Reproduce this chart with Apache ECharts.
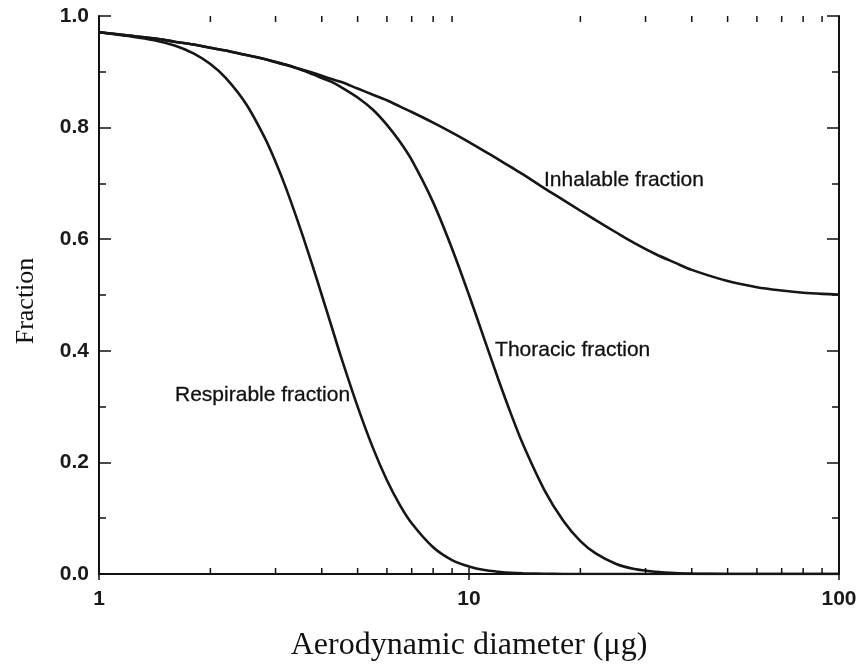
<!DOCTYPE html>
<html>
<head>
<meta charset="utf-8">
<script src="https://cdn.jsdelivr.net/npm/echarts@6/dist/echarts.min.js"></script>
<style>html,body{margin:0;padding:0;background:#fff;}#chart{width:860px;height:667px;}</style>
</head>
<body>
<div id="chart"></div>
<script>
// Aerodynamic diameter (x values)
const diameters = [1, 1.2, 1.4, 1.6, 1.8, 2, 2.2, 2.5, 2.8, 3, 3.2, 3.5, 3.8, 4, 4.25, 4.5, 5, 5.5, 6, 6.5, 7, 8, 9, 10, 11, 12, 13, 14, 16, 18, 20, 22, 25, 28, 32, 36, 40, 50, 60, 70, 80, 90, 100];
const inhalable = [0.971, 0.965, 0.960, 0.954, 0.949, 0.943, 0.938, 0.930, 0.923, 0.918, 0.913, 0.905, 0.898, 0.893, 0.887, 0.882, 0.870, 0.859, 0.849, 0.838, 0.828, 0.809, 0.791, 0.774, 0.758, 0.743, 0.729, 0.716, 0.691, 0.670, 0.651, 0.634, 0.612, 0.593, 0.573, 0.558, 0.545, 0.525, 0.514, 0.508, 0.504, 0.502, 0.501];
const thoracic = [0.971, 0.965, 0.960, 0.954, 0.949, 0.943, 0.938, 0.930, 0.923, 0.917, 0.912, 0.904, 0.895, 0.889, 0.882, 0.873, 0.854, 0.832, 0.805, 0.775, 0.742, 0.666, 0.583, 0.500, 0.421, 0.349, 0.286, 0.232, 0.150, 0.095, 0.059, 0.037, 0.018, 0.009, 0.004, 0.0015, 0.0006, 0, 0, 0, 0, 0, 0];
const respirable = [0.971, 0.964, 0.957, 0.947, 0.933, 0.914, 0.889, 0.842, 0.783, 0.739, 0.692, 0.619, 0.547, 0.500, 0.444, 0.391, 0.300, 0.226, 0.168, 0.124, 0.091, 0.048, 0.025, 0.0135, 0.007, 0.004, 0.002, 0.0012, 0.0004, 0.0001, 0, 0, 0, 0, 0, 0, 0, 0, 0, 0, 0, 0, 0];
// Curve names and label anchors [diameter, fraction]
const seriesNames = ['Inhalable fraction', 'Thoracic fraction', 'Respirable fraction'];
const labelAnchors = [[15.95, 0.706], [11.76, 0.401], [1.605, 0.321]];
// Axis ticks
const minorXTicks = [2, 3, 4, 5, 6, 7, 8, 9, 20, 30, 40, 50, 60, 70, 80, 90];
const xTitle = 'Aerodynamic diameter (μg)';
const yTitle = 'Fraction';

const chart = echarts.init(document.getElementById('chart'), null, {renderer: 'canvas'});
const ink = '#111';
const lineColor = '#161616';

function pairs(ys) { return diameters.map((d, i) => [d, ys[i]]); }
const allSeries = [inhalable, thoracic, respirable];

const lineSeries = allSeries.map((ys, i) => ({
  type: 'line',
  name: seriesNames[i],
  data: pairs(ys),
  smooth: 0.3,
  showSymbol: false,
  symbol: 'none',
  z: 3,
  lineStyle: {color: lineColor, width: 2.6},
  markPoint: {
    symbol: 'circle',
    symbolSize: 0,
    silent: true,
    data: [{
      coord: labelAnchors[i],
      label: {
        show: true,
        formatter: seriesNames[i],
        position: 'right',
        distance: 0,
        color: '#111',
        fontFamily: 'Liberation Sans, Arial, sans-serif',
        fontSize: 21,
        textBorderColor: '#111',
        textBorderWidth: 0.3
      }
    }]
  }
}));

const tickSeries = {
  type: 'custom',
  silent: true,
  clip: false,
  z: 4,
  data: minorXTicks.map(v => [v]),
  encode: {x: 0},
  renderItem: function (params, api) {
    const x = api.value(0);
    const b = api.coord([x, 0]);
    const t = api.coord([x, 1]);
    const st = {stroke: ink, lineWidth: 1.5};
    return {
      type: 'group',
      children: [
        {type: 'line', shape: {x1: b[0], y1: b[1], x2: b[0], y2: b[1] - 6}, style: st},
        {type: 'line', shape: {x1: t[0], y1: t[1], x2: t[0], y2: t[1] + 6}, style: st}
      ]
    };
  }
};

const axisLine = {show: true, lineStyle: {color: ink, width: 2}};
const tickLabelStyle = {fontFamily: 'Liberation Sans, Arial, sans-serif', fontWeight: 'bold', fontSize: 21, color: '#1a1a1a'};

chart.setOption({
  backgroundColor: '#fff',
  animation: false,
  grid: {left: 99, right: 21, top: 16, bottom: 90, containLabel: false},
  xAxis: [{
    type: 'log',
    logBase: 10,
    min: 1,
    max: 100,
    position: 'bottom',
    name: xTitle,
    nameLocation: 'middle',
    nameGap: 56,
    nameTextStyle: {fontFamily: 'Liberation Serif, Times New Roman, serif', fontSize: 32, color: '#111'},
    axisLine: axisLine,
    axisTick: {show: true, inside: true, length: 6, lineStyle: {color: ink, width: 1.5}},
    axisLabel: Object.assign({show: true, margin: 15}, tickLabelStyle),
    splitLine: {show: false},
    minorTick: {show: false}
  }, {
    type: 'log',
    logBase: 10,
    min: 1,
    max: 100,
    position: 'top',
    axisLine: axisLine,
    axisTick: {show: true, inside: true, length: 6, lineStyle: {color: ink, width: 1.5}},
    axisLabel: {show: false},
    splitLine: {show: false}
  }],
  yAxis: [{
    type: 'value',
    min: 0,
    max: 1,
    interval: 0.2,
    position: 'left',
    name: yTitle,
    nameLocation: 'middle',
    nameGap: 60,
    nameRotate: 90,
    nameTextStyle: {fontFamily: 'Liberation Serif, Times New Roman, serif', fontSize: 26, color: '#111', padding: [0, 12, 0, 0]},
    axisLine: axisLine,
    axisTick: {show: true, inside: true, length: 12, lineStyle: {color: ink, width: 1.5}},
    minorTick: {show: true, splitNumber: 2, length: 7, lineStyle: {color: ink, width: 1.5}},
    axisLabel: Object.assign({show: true, margin: 10, formatter: v => v.toFixed(1)}, tickLabelStyle),
    splitLine: {show: false}
  }, {
    type: 'value',
    min: 0,
    max: 1,
    interval: 0.2,
    position: 'right',
    axisLine: axisLine,
    axisTick: {show: true, inside: true, length: 12, lineStyle: {color: ink, width: 1.5}},
    minorTick: {show: true, splitNumber: 2, length: 7, lineStyle: {color: ink, width: 1.5}},
    axisLabel: {show: false},
    splitLine: {show: false}
  }],
  series: lineSeries.concat([tickSeries])
});
</script>
</body>
</html>
